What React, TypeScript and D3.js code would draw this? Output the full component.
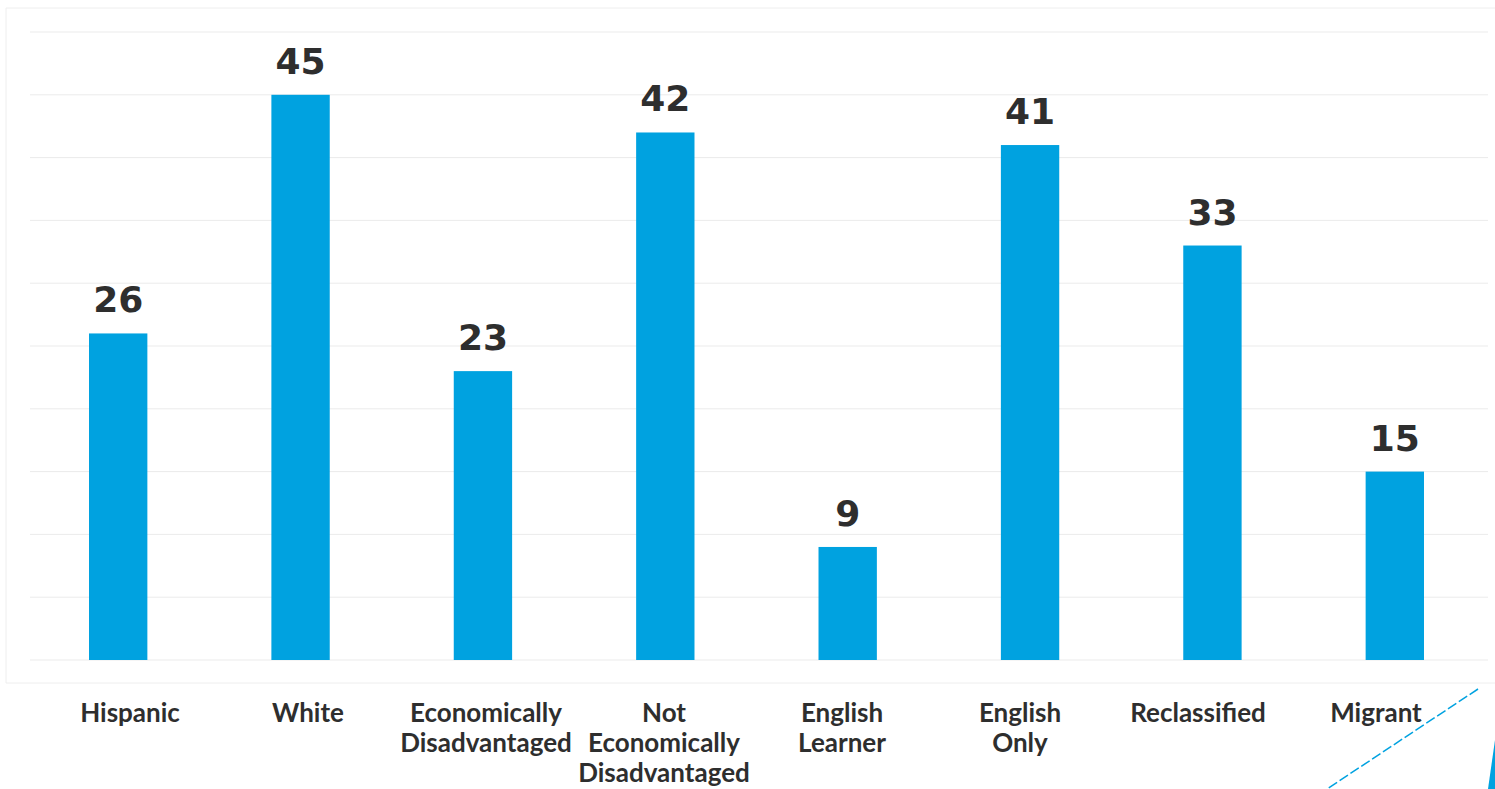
import React from "react";
import * as d3 from "d3";

const categories = [
  "Hispanic",
  "White",
  "Economically Disadvantaged",
  "Not Economically Disadvantaged",
  "English Learner",
  "English Only",
  "Reclassified",
  "Migrant",
];
const categoryLines = [
  ["Hispanic"],
  ["White"],
  ["Economically", "Disadvantaged"],
  ["Not", "Economically", "Disadvantaged"],
  ["English", "Learner"],
  ["English", "Only"],
  ["Reclassified"],
  ["Migrant"],
];
const values = [26, 45, 23, 42, 9, 41, 33, 15];
const gridTicks = [0, 5, 10, 15, 20, 25, 30, 35, 40, 45, 50];

const W = 1495;
const H = 789;
const BLUE = "#00A2E0";
const TEXT = "#2e2e2e";

export default function App() {
  const x = d3
    .scaleBand<string>()
    .domain(categories)
    .range([27, 1486])
    .paddingInner(0.68)
    .paddingOuter(0.34);
  const xLabel = d3.scalePoint<string>().domain(categories).range([130, 1376]);
  const y = d3.scaleLinear().domain([0, 50]).range([660, 32]);

  return (
    <svg
      width={W}
      height={H}
      style={{ position: "absolute", left: 0, top: 0, background: "#fff" }}
    >
      {/* faint frame */}
      <path d={`M6,8 L${W},8 M6,8 L6,683 M6,683 L${W},683`} stroke="#eeeeee" strokeWidth={1} fill="none" />
      {/* gridlines */}
      {gridTicks.map((t) => (
        <line key={t} x1={30} x2={1488} y1={y(t)} y2={y(t)} stroke="#ebebeb" strokeWidth={1} />
      ))}
      {/* bars */}
      {categories.map((c, i) => (
        <rect
          key={c}
          x={x(c)}
          y={y(values[i])}
          width={x.bandwidth()}
          height={y(0) - y(values[i])}
          fill={BLUE}
        />
      ))}
      {/* value labels */}
      {categories.map((c, i) => (
        <text
          key={c}
          x={(x(c) as number) + x.bandwidth() / 2}
          y={y(values[i]) - 21}
          textAnchor="middle"
          fontFamily="'DejaVu Sans', sans-serif"
          fontWeight={700}
          fontSize={36}
          fill={TEXT}
        >
          {values[i]}
        </text>
      ))}
      {/* category labels */}
      {categories.map((c, i) => (
        <text
          key={c}
          x={xLabel(c)}
          y={722}
          textAnchor="middle"
          fontFamily="Lato, sans-serif"
          fontWeight={700}
          fontSize={26}
          fill={TEXT}
        >
          {categoryLines[i].map((l, j) => (
            <tspan key={j} x={xLabel(c)} dy={j === 0 ? 0 : 30}>
              {l}
            </tspan>
          ))}
        </text>
      ))}
      {/* slide decoration */}
      <line x1={1478} y1={689} x2={1327} y2={789} stroke={BLUE} strokeWidth={1.5} strokeDasharray="10 3" />
      <path d={`M1495,740 L1488,789 L1495,789 Z`} fill={BLUE} />
    </svg>
  );
}
